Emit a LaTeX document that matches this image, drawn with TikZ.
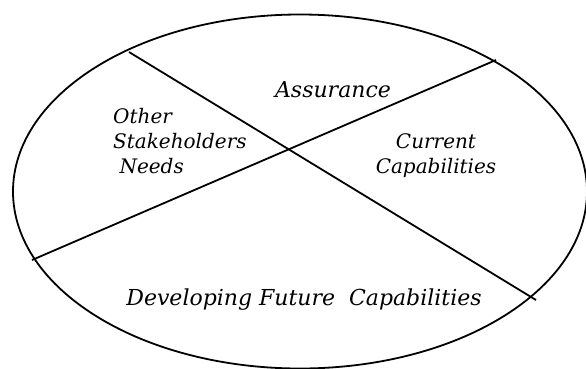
\documentclass[tikz,border=0pt]{standalone}
\usepackage{fontspec}
\setmainfont{DejaVu Serif}
\begin{document}
\begin{tikzpicture}[x=1pt,y=-1pt,
  lbl/.style={font=\itshape\fontsize{20}{25}\selectfont, inner sep=0pt},
  biglbl/.style={font=\itshape\fontsize{22}{25}\selectfont, inner sep=0pt},
  border/.style={line width=1.8pt, black}]
\useasboundingbox (0,0) rectangle (586,368);
\clip (0,0) rectangle (586,368);
\draw[border] (300,191.5) ellipse [x radius=287, y radius=177];
\coordinate (a1) at (129,52);
\coordinate (a2) at (536,300);
\coordinate (b1) at (496,60);
\coordinate (b2) at (32,260);
\draw[border] (a1) -- (a2);
\draw[border] (b1) -- (b2);
\node[biglbl, anchor=base] (assur) at (333,97) {Assurance};
\node[lbl, align=left, anchor=base west] (other) at (113,173) {Other\\Stakeholders\\\ Needs};
\node[lbl, align=center, anchor=base] (curr) at (436,173) {Current\\Capabilities};
\node[biglbl, anchor=base] (dev) at (304,305) {Developing Future\ \ Capabilities};
\end{tikzpicture}
\end{document}
